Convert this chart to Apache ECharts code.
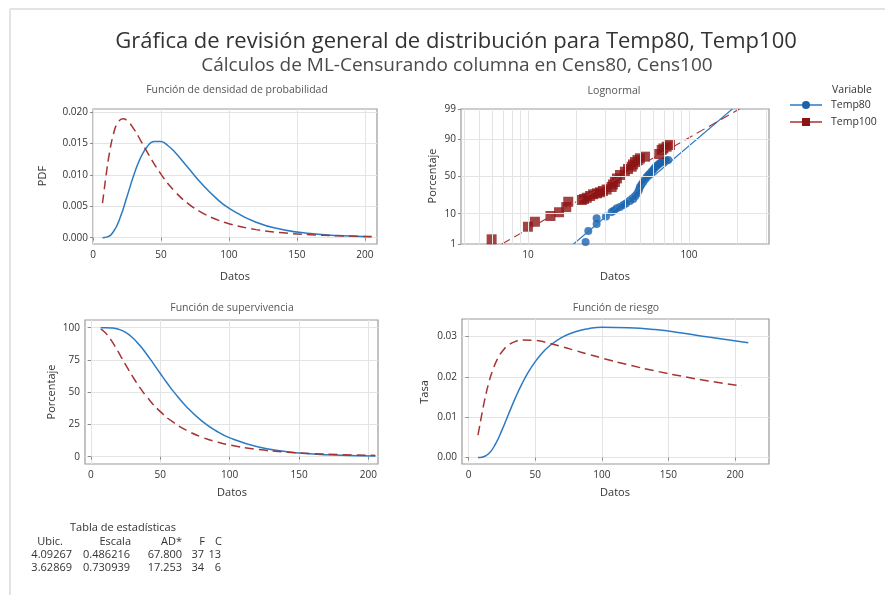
<!DOCTYPE html>
<html><head><meta charset="utf-8">
<script src="https://cdn.jsdelivr.net/npm/echarts@6/dist/echarts.min.js"></script>
<style>html,body{margin:0;padding:0;background:#fff}#c{width:885px;height:595px}</style>
</head><body><div id="c"></div>
<script>
// ---------- data ----------
const xTicks = [0, 50, 100, 150, 200];
const pdfTicks = [0, 0.005, 0.010, 0.015, 0.020];
const survTicks = [0, 25, 50, 75, 100];
const hazTicks = [0, 0.01, 0.02, 0.03];
const logXTicks = [10, 100];
const logXGrid = [4, 5, 6, 7, 8, 9, 10, 20, 30, 40, 50, 60, 70, 80, 90, 100, 200, 300];
const probTicks = [1, 10, 50, 90, 99];

const xTemp80 = [7, 10, 15, 20, 25, 30, 35, 40, 45, 50, 55, 60, 70, 80, 90, 100, 120, 140, 160, 180, 205];
const pdfTemp80 = [0.000009, 0.000093, 0.00095, 0.00322, 0.00653, 0.00995, 0.01273, 0.01453, 0.01534, 0.01532, 0.01469, 0.01368, 0.01114, 0.00859, 0.00642, 0.00471, 0.00246, 0.00128, 0.000666, 0.000352, 0.000163];
const survTemp80 = [100, 99.99, 99.78, 98.80, 96.38, 92.25, 86.54, 79.69, 72.18, 64.49, 56.97, 49.87, 37.43, 27.59, 20.12, 14.59, 7.65, 4.04, 2.16, 1.18, 0.57];
const xHaz80 = [7, 10, 15, 20, 25, 30, 35, 40, 45, 50, 55, 60, 70, 80, 90, 100, 120, 140, 160, 180, 210];
const hazTemp80 = [0.000009, 0.000093, 0.00095, 0.00326, 0.00678, 0.01079, 0.01471, 0.01823, 0.02125, 0.02376, 0.02579, 0.02743, 0.02976, 0.03113, 0.03191, 0.03228, 0.03216, 0.03168, 0.03083, 0.02983, 0.0284];

const xTemp100 = [7, 8, 10, 12, 15, 18, 22, 26, 30, 35, 40, 50, 60, 70, 80, 90, 100, 120, 140, 160, 180, 205];
const pdfTemp100 = [0.00550, 0.00722, 0.01053, 0.01337, 0.01646, 0.01821, 0.01893, 0.01846, 0.01733, 0.01552, 0.01360, 0.01013, 0.00743, 0.00544, 0.00401, 0.00298, 0.00224, 0.00129, 0.00078, 0.00048, 0.00031, 0.00018];
const survTemp100 = [98.93, 98.30, 96.52, 94.12, 89.61, 84.38, 76.90, 69.39, 62.22, 54.00, 46.72, 34.92, 26.21, 19.82, 15.14, 11.67, 9.08, 5.64, 3.62, 2.39, 1.62, 1.02];
const hazTemp100 = [0.00556, 0.00734, 0.01091, 0.01420, 0.01837, 0.02158, 0.02462, 0.02661, 0.02786, 0.02873, 0.02911, 0.02900, 0.02833, 0.02746, 0.02650, 0.02554, 0.02463, 0.02294, 0.02146, 0.02013, 0.01895, 0.01775];

// probability plot points (Datos, Porcentaje)
const probDatos80 = [22.8, 23.7, 26.7, 26.7, 30.5, 33.1, 34.2, 35.6, 37.3, 39.1, 40.6, 43.0, 45.1, 46.5, 47.9, 48.9, 49.6, 50.7, 52.0, 53.3, 54.6, 56.0, 57.3, 58.7, 60.2, 61.5, 63.0, 64.5, 66.0, 67.7, 69.9, 72.0, 74.4];
const probPct80 = [1.2, 3.0, 5.1, 7.5, 8.4, 11.0, 12.1, 13.6, 14.6, 16.3, 17.6, 19.9, 21.9, 25.1, 28.5, 32.1, 35.9, 39.1, 42.5, 45.9, 49.3, 52.1, 54.1, 56.8, 59.5, 62.2, 64.1, 66.1, 67.5, 69.1, 70.0, 70.9, 71.5];
const probDatos100 = [5.95, 10.0, 11.05, 13.8, 15.6, 17.3, 17.8, 21.6, 22.3, 23.2, 24.3, 25.4, 26.8, 28.0, 29.2, 30.8, 33.1, 33.7, 34.7, 35.7, 37.3, 40.0, 41.8, 44.1, 44.9, 46.2, 47.9, 49.6, 53.3, 65.4, 67.7, 69.4, 72.7, 76.2];
const probPct100 = [1.52, 4.17, 5.95, 8.66, 10.9, 14.6, 19.2, 20.9, 21.9, 23.2, 25.1, 27.0, 28.1, 29.3, 30.9, 32.7, 35.9, 39.1, 42.5, 47.3, 52.1, 56.6, 60.2, 63.2, 66.1, 69.1, 71.5, 73.5, 75.3, 78.1, 82.0, 83.3, 84.8, 86.1];
// fitted lines (end points)
const fitDatos80 = [19.2, 186];
const fitPct80 = [1, 99];
const fitDatos100 = [6.9, 206];
const fitPct100 = [1, 99];

const statsHeader = ['Ubic.', 'Escala', 'AD*', 'F', 'C'];
const statsRows = [
  ['4.09267', '0.486216', '67.800', '37', '13'],
  ['3.62869', '0.730939', '17.253', '34', '6']
];

// ---------- helpers ----------
function probit(p) {
  const a = [-3.969683028665376e+01, 2.209460984245205e+02, -2.759285104469687e+02, 1.383577518672690e+02, -3.066479806614716e+01, 2.506628277459239e+00];
  const b = [-5.447609879822406e+01, 1.615858368580409e+02, -1.556989798598866e+02, 6.680131188771972e+01, -1.328068155288572e+01];
  const c = [-7.784894002430293e-03, -3.223964580411365e-01, -2.400758277161838e+00, -2.549732539343734e+00, 4.374664141464968e+00, 2.938163982698783e+00];
  const d = [7.784695709041462e-03, 3.224671290700398e-01, 2.445134137142996e+00, 3.754408661907416e+00];
  const pl = 0.02425, ph = 1 - pl;
  let q, r;
  if (p < pl) { q = Math.sqrt(-2 * Math.log(p)); return (((((c[0]*q+c[1])*q+c[2])*q+c[3])*q+c[4])*q+c[5]) / ((((d[0]*q+d[1])*q+d[2])*q+d[3])*q+1); }
  if (p <= ph) { q = p - 0.5; r = q*q; return (((((a[0]*r+a[1])*r+a[2])*r+a[3])*r+a[4])*r+a[5])*q / (((((b[0]*r+b[1])*r+b[2])*r+b[3])*r+b[4])*r+1); }
  q = Math.sqrt(-2 * Math.log(1 - p)); return -(((((c[0]*q+c[1])*q+c[2])*q+c[3])*q+c[4])*q+c[5]) / ((((d[0]*q+d[1])*q+d[2])*q+d[3])*q+1);
}
const zip = (xs, ys) => xs.map((x, i) => [x, ys[i]]);
const zipP = (xs, ps) => xs.map((x, i) => [x, probit(ps[i] / 100)]);
const probZ = probTicks.map(p => probit(p / 100));

const FF = '"Open Sans", "Noto Sans", sans-serif';
const BLUE = '#2b7bc4', BLUE_M = '#1b63ad';
const RED = '#a53535', RED_M = '#8c1414';
const GRIDC = '#e4e4e4';

function grid(l, t, w, h) {
  return { left: l, top: t, width: w, height: h, show: true, borderColor: '#999', borderWidth: 1.2, backgroundColor: 'transparent', containLabel: false, outerBoundsMode: 'none' };
}
function valAxis(gi, min, max, ticks, fmt, isY) {
  return {
    type: 'value', gridIndex: gi, min: min, max: max,
    axisLine: { show: false },
    axisTick: { show: true, length: 3, lineStyle: { color: '#8a8a8a' }, customValues: ticks },
    axisLabel: { customValues: ticks, color: '#333', fontSize: 10, fontFamily: FF, margin: isY ? 5 : 6, formatter: fmt },
    splitLine: { show: true, lineStyle: { color: GRIDC, width: 1 } }
  };
}
const fmtInt = v => String(Math.round(v));

const lineS = (xi, data, color, dashed, w) => ({
  type: 'line', xAxisIndex: xi, yAxisIndex: xi, data: data, smooth: 0.5,
  showSymbol: false, symbol: 'none', silent: true, animation: false,
  lineStyle: { color: color, width: w || 1.5, type: dashed ? [9, 5] : 'solid' }
});

const option = {
  backgroundColor: '#fff',
  animation: false,
  grid: [grid(93, 109, 284, 135), grid(461, 109, 308, 135), grid(85, 320, 293, 144), grid(462, 319, 307, 145)],
  xAxis: [
    valAxis(0, 0, 209, xTicks, fmtInt, false),
    {
      type: 'log', gridIndex: 1, min: 3.84, max: 314, logBase: 10,
      axisLine: { show: false },
      axisTick: { show: true, length: 3, lineStyle: { color: '#8a8a8a' }, customValues: logXTicks },
      axisLabel: { customValues: logXTicks, color: '#333', fontSize: 10, fontFamily: FF, margin: 6, formatter: fmtInt },
      splitLine: { show: false }
    },
    valAxis(2, -4.3, 206.9, xTicks, fmtInt, false),
    valAxis(3, -5, 225.5, xTicks, fmtInt, false)
  ],
  yAxis: [
    valAxis(0, -0.001, 0.0205, pdfTicks, v => v.toFixed(3), true),
    {
      type: 'value', gridIndex: 1, min: probZ[0], max: probZ[probZ.length - 1],
      axisLine: { show: false },
      axisTick: { show: true, length: 3, lineStyle: { color: '#8a8a8a' }, customValues: probZ },
      axisLabel: {
        customValues: probZ, color: '#333', fontSize: 10, fontFamily: FF, margin: 5,
        formatter: v => { let bi = 0; probZ.forEach((z, i) => { if (Math.abs(z - v) < Math.abs(probZ[bi] - v)) bi = i; }); return String(probTicks[bi]); }
      },
      splitLine: { show: false }
    },
    valAxis(2, -5.66, 106, survTicks, fmtInt, true),
    valAxis(3, -0.0016, 0.0343, hazTicks, v => v.toFixed(2), true)
  ],
  series: [
    lineS(0, zip(xTemp80, pdfTemp80), BLUE, false),
    lineS(0, zip(xTemp100, pdfTemp100), RED, true),
    {
      type: 'line', xAxisIndex: 1, yAxisIndex: 1, data: [], silent: true, z: 1,
      markLine: {
        silent: true, symbol: 'none', animation: false, label: { show: false },
        lineStyle: { color: GRIDC, width: 1, type: 'solid' },
        data: logXGrid.map(v => ({ xAxis: v })).concat(probZ.map(z => ({ yAxis: z })))
      }
    },
    Object.assign(lineS(1, zipP(fitDatos80, fitPct80), BLUE, false, 1.1), { smooth: false }),
    Object.assign(lineS(1, zipP(fitDatos100, fitPct100), RED, true, 1.1), { smooth: false }),
    {
      type: 'scatter', xAxisIndex: 1, yAxisIndex: 1, data: zipP(probDatos80, probPct80), symbol: 'circle', symbolSize: 8,
      itemStyle: { color: BLUE_M }, silent: true, animation: false
    },
    {
      type: 'scatter', xAxisIndex: 1, yAxisIndex: 1, data: zipP(probDatos100, probPct100), symbol: 'rect', symbolSize: 10,
      itemStyle: { color: RED_M }, silent: true, animation: false
    },
    lineS(2, zip(xTemp80, survTemp80), BLUE, false),
    lineS(2, zip(xTemp100, survTemp100), RED, true),
    lineS(3, zip(xHaz80, hazTemp80), BLUE, false),
    lineS(3, zip(xTemp100, hazTemp100), RED, true)
  ],
  graphic: []
};

// ---------- texts ----------
function txt(text, x, y, size, color, align, extra, weight) {
  return Object.assign({
    type: 'text', x: x, y: y, silent: true,
    style: { text: text, x: 0, y: 0, font: (weight || 'normal') + ' ' + size + 'px ' + FF, fill: color, align: align || 'center', verticalAlign: 'middle', textAlign: align || 'center', textVerticalAlign: 'middle' }
  }, extra || {});
}
const G = option.graphic;
G.push({ type: 'line', silent: true, shape: { x1: 10, y1: 9, x2: 885, y2: 9 }, style: { stroke: '#e3e3e3', lineWidth: 2 } });
G.push({ type: 'line', silent: true, shape: { x1: 10, y1: 9, x2: 10, y2: 595 }, style: { stroke: '#e3e3e3', lineWidth: 2 } });
G.push(txt('Gráfica de revisión general de distribución para Temp80, Temp100', 456, 42, 22, '#333'));
G.push(txt('Cálculos de ML-Censurando columna en Cens80, Cens100', 457, 66, 19, '#4a4a4a'));
G.push(txt('Función de densidad de probabilidad', 237, 90, 10.5, '#555'));
G.push(txt('Lognormal', 614, 91, 10.5, '#555'));
G.push(txt('Función de supervivencia', 232, 308, 10.5, '#555'));
G.push(txt('Función de riesgo', 616, 308, 10.5, '#555'));
G.push(txt('Datos', 235, 277, 11, '#333'));
G.push(txt('Datos', 615, 277, 11, '#333'));
G.push(txt('Datos', 232, 493, 11, '#333'));
G.push(txt('Datos', 615, 493, 11, '#333'));
G.push(txt('PDF', 43, 176, 11, '#333', 'center', { rotation: Math.PI / 2 }));
G.push(txt('Porcentaje', 433, 176, 11, '#333', 'center', { rotation: Math.PI / 2 }));
G.push(txt('Porcentaje', 52, 392, 11, '#333', 'center', { rotation: Math.PI / 2 }));
G.push(txt('Tasa', 425, 392, 11, '#333', 'center', { rotation: Math.PI / 2 }));
// legend
G.push(txt('Variable', 852, 90, 10.5, '#333'));
G.push({ type: 'line', silent: true, shape: { x1: 790, y1: 105, x2: 822, y2: 105 }, style: { stroke: BLUE, lineWidth: 1.5 } });
G.push({ type: 'circle', silent: true, shape: { cx: 806, cy: 105, r: 4 }, style: { fill: BLUE_M } });
G.push(txt('Temp80', 831, 105, 10.5, '#333', 'left'));
G.push({ type: 'line', silent: true, shape: { x1: 790, y1: 122, x2: 822, y2: 122 }, style: { stroke: RED, lineWidth: 1.5 } });
G.push({ type: 'rect', silent: true, shape: { x: 802, y: 118, width: 8, height: 8 }, style: { fill: RED_M } });
G.push(txt('Temp100', 831, 122, 10.5, '#333', 'left'));
// stats table
G.push(txt('Tabla de estadísticas', 123, 528, 11, '#333'));
const hdrRight = [63, 131, 182, 205, 222];
const colRight = [72, 130, 182, 204, 221];
statsHeader.forEach((h, i) => G.push(txt(h, hdrRight[i], 542, 11, '#333', 'right')));
statsRows.forEach((row, r) => row.forEach((v, i) => G.push(txt(v, colRight[i], 555 + r * 13.3, 11, '#333', 'right'))));

const chart = echarts.init(document.getElementById('c'), null, { renderer: 'canvas' });
chart.setOption(option);
</script></body></html>
